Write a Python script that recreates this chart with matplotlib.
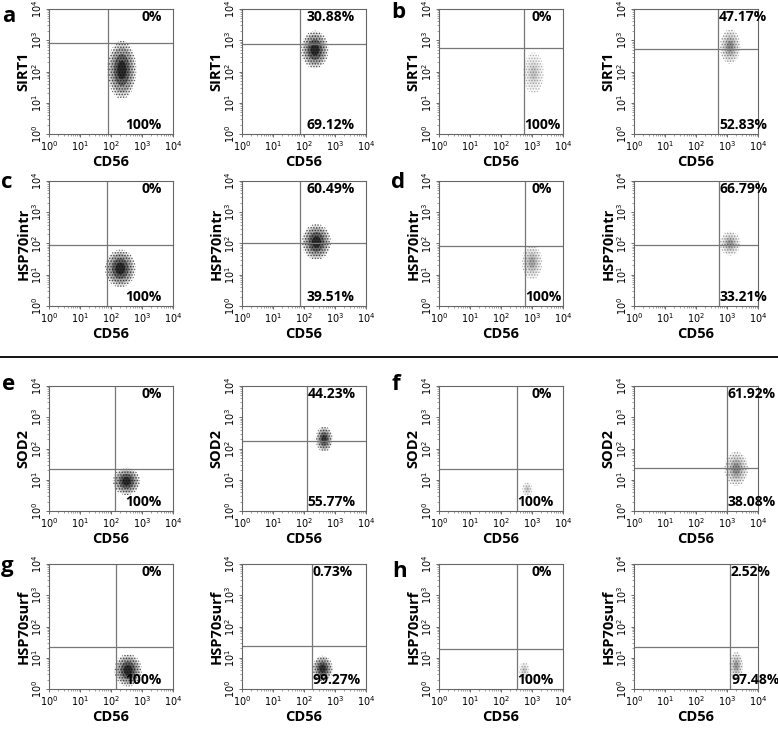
import matplotlib.pyplot as plt
import numpy as np
from matplotlib.patches import Ellipse

plt.rcParams['font.family'] = ['Open Sans', 'DejaVu Sans']
plt.rcParams['hatch.linewidth'] = 0.7

# one row per marker, four plots per row (two panels x two plots)
markers = ['SIRT1', 'HSP70intr', 'SOD2', 'HSP70surf']
letters = [['a', 'b'], ['c', 'd'], ['e', 'f'], ['g', 'h']]

# gate positions in decades (log10)
gate_x = [[1.89, 1.88, 2.73, 2.72],
          [1.88, 1.87, 2.76, 2.75],
          [2.14, 2.10, 2.50, 3.00],
          [2.15, 2.25, 2.50, 3.11]]
gate_y = [[2.90, 2.89, 2.74, 2.72],
          [1.96, 2.00, 1.93, 1.95],
          [1.35, 2.25, 1.33, 1.39],
          [1.36, 1.38, 1.28, 1.34]]

upper_pct = [['0%', '30.88%', '0%', '47.17%'],
             ['0%', '60.49%', '0%', '66.79%'],
             ['0%', '44.23%', '0%', '61.92%'],
             ['0%', '0.73%', '0%', '2.52%']]
lower_pct = [['100%', '69.12%', '100%', '52.83%'],
             ['100%', '39.51%', '100%', '33.21%'],
             ['100%', '55.77%', '100%', '38.08%'],
             ['100%', '99.27%', '100%', '97.48%']]

# cell clouds: centre (decades), spread (decades), density 0..1
cloud_cx = [[2.35, 2.35, 3.05, 3.10],
            [2.30, 2.40, 3.00, 3.10],
            [2.50, 2.65, 2.85, 3.30],
            [2.55, 2.60, 2.75, 3.30]]
cloud_cy = [[2.05, 2.70, 1.95, 2.80],
            [1.20, 2.05, 1.40, 2.00],
            [0.95, 2.30, 0.70, 1.35],
            [0.60, 0.65, 0.60, 0.75]]
cloud_w = [[0.85, 0.80, 0.60, 0.60],
           [0.90, 0.85, 0.60, 0.60],
           [0.80, 0.50, 0.30, 0.70],
           [0.80, 0.60, 0.30, 0.40]]
cloud_h = [[1.70, 1.10, 1.20, 1.00],
           [1.10, 1.05, 1.00, 0.70],
           [0.80, 0.75, 0.40, 1.00],
           [0.95, 0.75, 0.50, 0.80]]
cloud_d = [[0.9, 0.9, 0.15, 0.35],
           [0.9, 0.9, 0.25, 0.30],
           [0.9, 0.8, 0.15, 0.35],
           [0.9, 0.85, 0.15, 0.30]]

W, H = 778, 730
col_left = [49, 242, 439, 634]
row_top = [9, 181, 386, 564]
aw, ah = 124, 125

fig = plt.figure(figsize=(W / 100, H / 100), dpi=100)

minor = [n + np.log10(k) for n in range(4) for k in range(2, 10)]
axes = []
for r in range(4):
    for c in range(4):
        ax = fig.add_axes([col_left[c] / W, 1 - (row_top[r] + ah) / H, aw / W, ah / H])
        ax.set_xlim(0, 4)
        ax.set_ylim(0, 4)
        ax.set_xticks(range(5))
        ax.set_yticks(range(5))
        ax.set_xticklabels([r'$10^{%d}$' % i for i in range(5)], fontsize=7, family='DejaVu Sans')
        ax.set_yticklabels([r'$10^{%d}$' % i for i in range(5)], fontsize=7, family='DejaVu Sans',
                           rotation=90, va='center')
        ax.set_xticks(minor, minor=True)
        ax.set_yticks(minor, minor=True)
        ax.tick_params(which='major', length=2.5, width=0.6, color='#555555', pad=1)
        ax.tick_params(which='minor', length=1.5, width=0.5, color='#777777')
        for s in ax.spines.values():
            s.set_color('#666666')
            s.set_linewidth(0.8)

        cx, cy = cloud_cx[r][c], cloud_cy[r][c]
        w, h, d = cloud_w[r][c], cloud_h[r][c], cloud_d[r][c]
        for scale, a in [(1.0, 0.15), (0.85, 0.25), (0.6, 0.45), (0.35, 0.6)]:
            ax.add_patch(Ellipse((cx, cy), w * scale, h * scale, facecolor='black',
                                 alpha=a * d, lw=0))
        ax.add_patch(Ellipse((cx, cy), w * 1.1, h * 1.1, facecolor='none',
                             edgecolor=(0, 0, 0, 0.5 * d + 0.2), hatch='......', lw=0))

        ax.axvline(gate_x[r][c], color='#777777', lw=0.9)
        ax.axhline(gate_y[r][c], color='#777777', lw=0.9)

        ax.set_ylabel(markers[r], fontsize=10.5, fontweight='bold')
        ax.yaxis.set_label_coords(-0.15, 0.5)
        ax.set_xlabel('CD56', fontsize=10.5, fontweight='bold')
        ax.xaxis.set_label_coords(0.5, -0.17)

        t1 = ax.text(0.91, 0.935, upper_pct[r][c], transform=ax.transAxes,
                     ha='right', va='center', fontsize=10, fontweight='bold')
        t2 = ax.text(0.91, 0.07, lower_pct[r][c], transform=ax.transAxes,
                     ha='right', va='center', fontsize=10, fontweight='bold')
        axes.append((ax, r, c, t1, t2))

# letters
letter_pos = [[(2, 22), (391, 18)], [(1, 188), (391, 188)],
              [(2, 390), (392, 390)], [(1, 572), (392, 577)]]
for r in range(4):
    for k in range(2):
        x, y = letter_pos[r][k]
        fig.text(x / W, 1 - y / H, letters[r][k], fontsize=16, fontweight='bold',
                 ha='left', va='baseline')

# separator between the two halves
fig.add_artist(plt.Line2D([0, 1], [1 - 357 / H, 1 - 357 / H], color='black', lw=1.3))

# move labels that would cross the gate to start at the gate
fig.canvas.draw()
rend = fig.canvas.get_renderer()
for ax, r, c, t1, t2 in axes:
    gx = ax.transData.transform((gate_x[r][c], 0))[0]
    for t in (t1, t2):
        bb = t.get_window_extent(rend)
        if bb.x0 < gx + 3:
            t.set_ha('left')
            t.set_x(gate_x[r][c] / 4 + 0.005)

fig.savefig('out.png', dpi=100)
